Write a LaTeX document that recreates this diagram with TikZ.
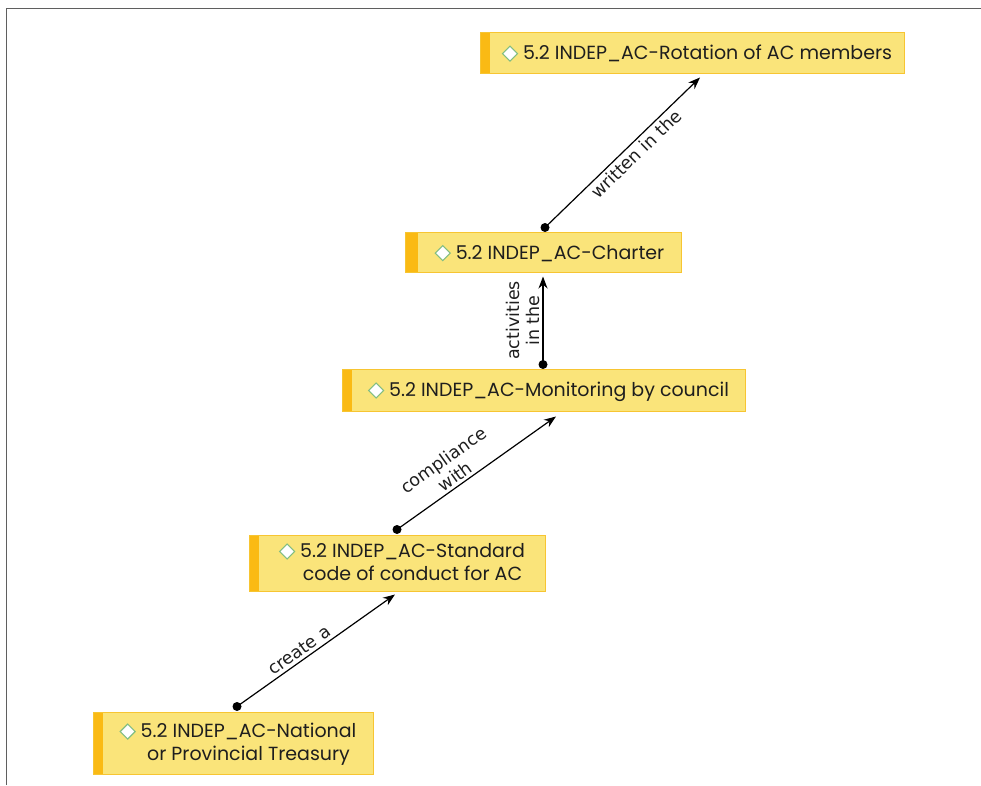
\documentclass[tikz,border=0pt]{standalone}
\usepackage{fontspec}
\setmainfont{Poppins}
\newfontfamily\labelfont{DejaVu Sans}
\usetikzlibrary{arrows.meta}

\definecolor{conceptfill}{RGB}{250,228,122}
\definecolor{conceptbar}{RGB}{250,186,20}
\definecolor{conceptline}{RGB}{247,197,50}
\definecolor{gemline}{RGB}{130,190,130}
\definecolor{framegray}{RGB}{95,95,95}
\definecolor{inkdark}{RGB}{30,30,30}

% small white diamond marker in front of each concept name
\newcommand\gem{\tikz[baseline=0pt]\draw[gemline,fill=white,line width=1.1pt]
  (0pt,-1.5pt)--(7.5pt,6pt)--(0pt,13.5pt)--(-7.5pt,6pt)--cycle;}
% concept text: room for the side bar, marker, then the centred lines
\newcommand\ctext[2][10pt]{\hspace*{#1}\rule{0pt}{19pt}\gem\hspace{5pt}\begin{tabular}[t]{@{}c@{}}#2\end{tabular}}

\tikzset{
  concept/.style={draw=conceptline, line width=1pt, fill=conceptfill,
    text=inkdark, inner sep=0pt,
    font=\fontsize{19}{23}\selectfont,
    path picture={\fill[conceptbar] (path picture bounding box.south west)
      rectangle ([xshift=#1]path picture bounding box.north west);}},
  concept/.default=10pt,
  link/.style={draw=black, line width=1.2pt, -{Stealth[length=12pt,width=9pt]}},
  linklabel/.style={sloped, font=\labelfont\fontsize{17.5}{20}\selectfont,
    text=inkdark, align=center, inner sep=3pt},
  dot/.style={fill=black}
}

\begin{document}
\begin{tikzpicture}[x=1pt,y=1pt]
\useasboundingbox (0,0) rectangle (981,785);

% frame
\draw[framegray, line width=1.6pt] (6.5,0) -- (6.5,776.5) -- (981,776.5);

% concepts
\node[concept, minimum width=424pt, minimum height=41pt] (rot) at (692,731.5)
  {\ctext{5.2 INDEP\_AC-Rotation of AC members}};
\node[concept=13pt, minimum width=276pt, minimum height=40pt] (charter) at (543,532)
  {\ctext[13pt]{5.2 INDEP\_AC-Charter}};
\node[concept, minimum width=403pt, minimum height=41pt] (mon) at (543.5,394.5)
  {\ctext{5.2 INDEP\_AC-Monitoring by council}};
\node[concept, minimum width=296pt, minimum height=56pt] (std) at (397,222)
  {\ctext{5.2 INDEP\_AC-Standard\\code of conduct for AC}};
\node[concept, minimum width=280pt, minimum height=62pt] (nat) at (233,42)
  {\ctext{5.2 INDEP\_AC-National\\or Provincial Treasury}};

% connector end points
\coordinate (e1s) at ([xshift=2pt,yshift=5pt]charter.north);
\coordinate (e1e) at ([xshift=8pt,yshift=-3pt]rot.south);
\coordinate (e2s) at ([xshift=-0.5pt,yshift=5pt]mon.north);
\coordinate (e2e) at ([yshift=-3pt]charter.south);
\coordinate (e3s) at ([yshift=5pt]std.north);
\coordinate (e3e) at ([xshift=12.5pt,yshift=-5pt]mon.south);
\coordinate (e4s) at ([xshift=4pt,yshift=5pt]nat.north);
\coordinate (e4e) at ([xshift=-2pt,yshift=-3pt]std.south);

% connectors
\draw[link] (e1s) -- node[linklabel, below, pos=.54] {written in the} (e1e);
\draw[link] (e2s) -- node[linklabel, above, pos=.5] {activities\\in the} (e2e);
\draw[link] (e3s) -- node[linklabel, above, pos=.40] {compliance\\with} (e3e);
\draw[link] (e4s) -- node[linklabel, above, pos=.43] {create a} (e4e);

\foreach \p in {e1s,e2s,e3s,e4s} \fill[dot] (\p) circle (4.5pt);
\end{tikzpicture}
\end{document}
